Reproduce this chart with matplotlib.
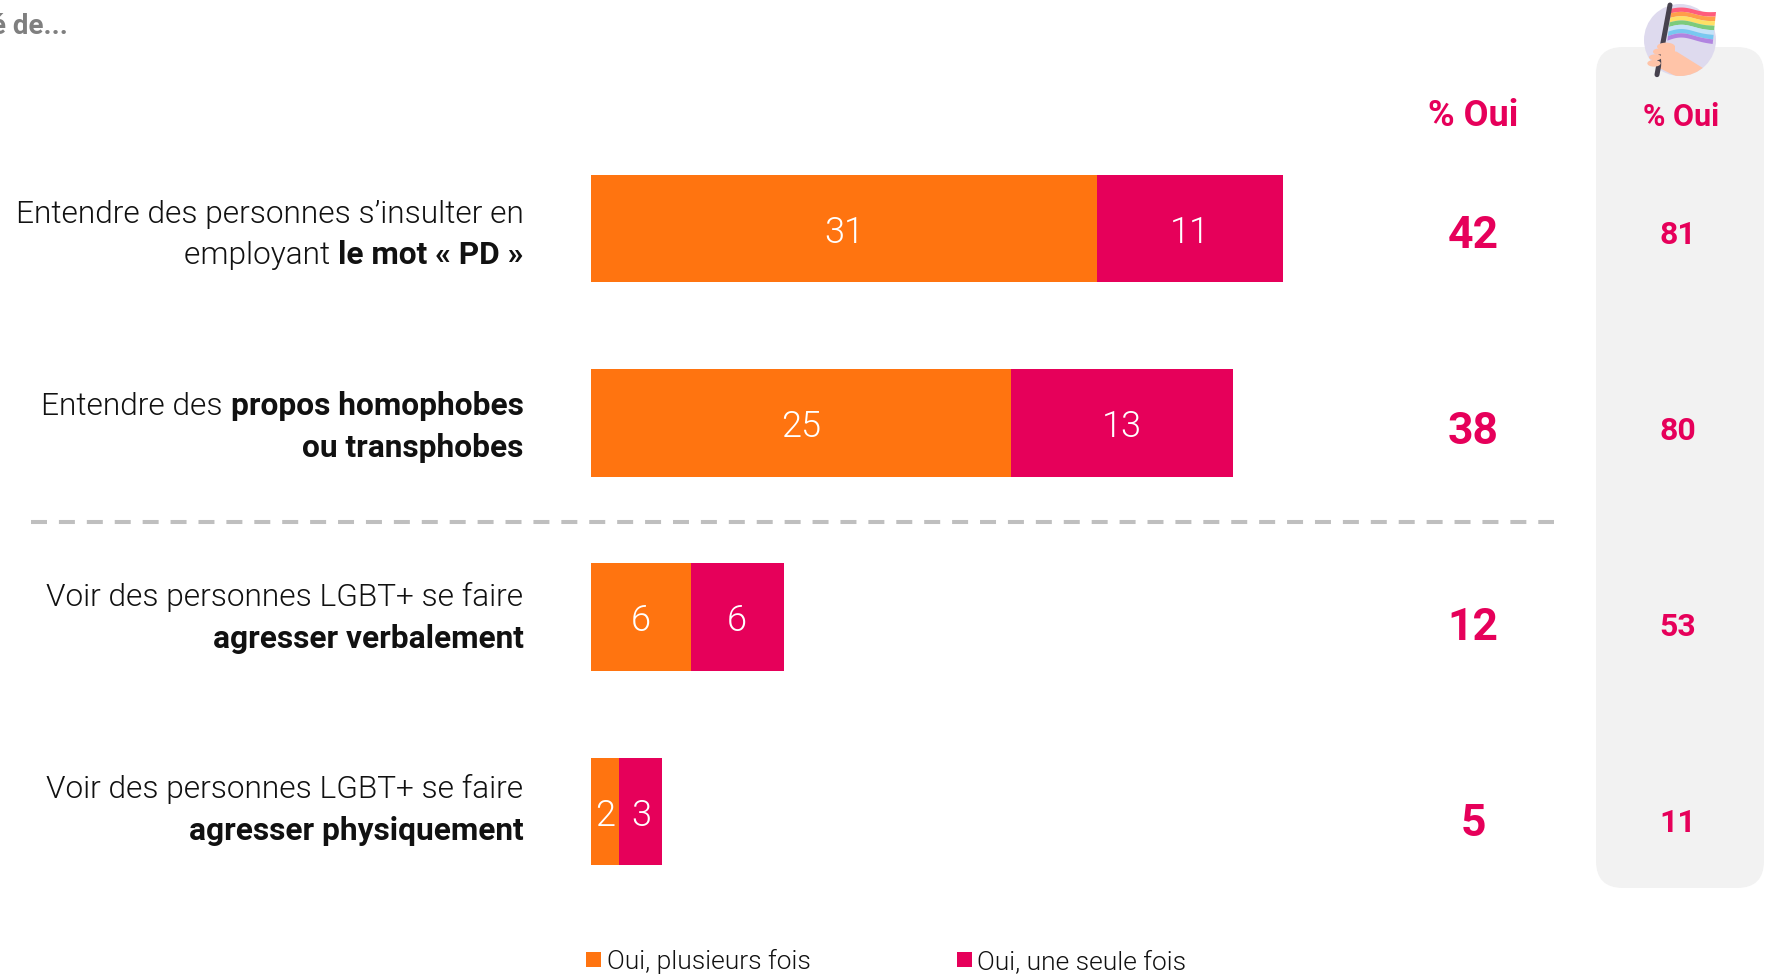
import numpy as np
import matplotlib
matplotlib.use("Agg")
import matplotlib.pyplot as plt
from matplotlib.patches import Rectangle, FancyBboxPatch, Circle, Polygon, Ellipse

# ---- data ----
several_times = [30.5, 25.3, 6.0, 1.7]
once_only = [11.2, 13.4, 5.6, 2.6]
several_labels = ["31", "25", "6", "2"]
once_labels = ["11", "13", "6", "3"]
total_all = ["42", "38", "12", "5"]
total_lgbt = ["81", "80", "53", "11"]
category_lines = [
    [[("Entendre des personnes s’insulter en", False)],
     [("employant ", False), ("le mot « PD »", True)]],
    [[("Entendre des ", False), ("propos homophobes", True)],
     [("ou transphobes", True)]],
    [[("Voir des personnes LGBT+ se faire", False)],
     [("agresser verbalement", True)]],
    [[("Voir des personnes LGBT+ se faire", False)],
     [("agresser physiquement", True)]],
]
legend_labels = ["Oui, plusieurs fois", "Oui, une seule fois"]
header = "% Oui"
clipped_title = "é de..."

ORANGE = "#FF7410"
PINK = "#E6005A"
W, H = 1772, 974
FONT = "Roboto"

fig = plt.figure(figsize=(W / 100, H / 100), dpi=100, facecolor="white")

# overlay in pixel coordinates for annotations
ov = fig.add_axes([0, 0, 1, 1], zorder=1)
ov.set_xlim(0, W)
ov.set_ylim(H, 0)
ov.axis("off")

# bars
PX_PER_UNIT = 16.6
top, bottom = 131.3, 908.6
left, span = 591, 1000
ax = fig.add_axes([left / W, (H - bottom) / H, span / W, (bottom - top) / H], zorder=2)
ax.patch.set_alpha(0)
y = np.arange(len(several_times))
b1 = ax.barh(y, several_times, height=0.553, color=ORANGE)
b2 = ax.barh(y, once_only, left=several_times, height=0.553, color=PINK)
ax.set_xlim(0, span / PX_PER_UNIT)
ax.set_ylim(3.5, -0.5)
ax.axis("off")
lab = dict(color="white", family=FONT, weight=300, fontsize=26)
anns = ax.bar_label(b1, labels=several_labels, label_type="center", **lab)
anns += ax.bar_label(b2, labels=once_labels, label_type="center", **lab)
for a in anns:
    a.xyann = (0, -3.0)

# right panel
px0, px1, py0, py1 = 1596, 1764, 47, 888
rad = 27
ov.add_patch(FancyBboxPatch((px0 + rad, py0 + rad), px1 - px0 - 2 * rad, py1 - py0 - 2 * rad,
                            boxstyle=f"round,pad={rad},rounding_size={rad}",
                            fc="#F2F2F2", ec="none", zorder=1))

# separator
ov.plot([31, 1554], [521.5, 521.5], color="#BFBFBF", lw=2.9, dashes=(3.97, 2.96),
        dash_capstyle="butt", zorder=2)

# category labels
renderer = fig.canvas.get_renderer()
RIGHT = 523.5
baselines = [(223, 264), (415, 457), (606, 648), (798, 840)]
LABEL_SIZE = 22.8
for lines, ys in zip(category_lines, baselines):
    for segs, yy in zip(lines, ys):
        x = RIGHT
        for txt, bold in reversed(segs):
            shown = txt.replace(" ", "\u00a0")
            t = ov.text(x, yy, shown, ha="right", va="baseline", fontsize=LABEL_SIZE,
                        family=FONT, weight=700 if bold else 300, color="#111111", zorder=3)
            x -= t.get_window_extent(renderer).width

# totals
for yy, a, b in zip([236.5, 431.5, 627.5, 823.5], total_all, total_lgbt):
    ov.text(1473, yy, a, ha="center", va="center", color=PINK, fontsize=32,
            family=FONT, weight=700, zorder=3)
    ov.text(1678, yy - 1, b, ha="center", va="center", color=PINK, fontsize=23,
            family=FONT, weight=700, zorder=3)
ov.text(1473, 115.5, header, ha="center", va="center", color=PINK, fontsize=26,
        family=FONT, weight=700, zorder=3)
ov.text(1681, 117.5, header, ha="center", va="center", color=PINK, fontsize=22,
        family=FONT, weight=700, zorder=3)

# clipped header
ov.text(68, 34, clipped_title, ha="right", va="baseline", color="#7F7F7F", fontsize=20,
        family=FONT, weight=700, zorder=3, clip_on=False)

# legend
for (sx, tx), c, s in zip([(586, 607), (957, 977)], [ORANGE, PINK], legend_labels):
    ov.add_patch(Rectangle((sx, 952), 15, 15, fc=c, ec="none", zorder=3))
    ov.text(tx, 969.5, s, ha="left", va="baseline", fontsize=19, family=FONT, weight=300,
            color="#111111", zorder=3)

# flag icon (decoration); coordinates are in a 3x local space
def ix(v):
    return 1560 + np.asarray(v, float) / 3
def iy(v):
    return np.asarray(v, float) / 3

disc = Circle((1680, 40), 36, fc="#DEDAEE", ec="none", zorder=4)
ov.add_patch(disc)
stripe_colors = ["#FF5C7C", "#FF9E4A", "#FFE066", "#7CCB7C", "#C4E2F8", "#78C8F0", "#B184E0"]
u = np.linspace(0, 1, 40)
xt = 334 + (468 - 334) * u
xb = 322 + (458 - 322) * u
n = len(stripe_colors)
for i, col in enumerate(stripe_colors):
    f0, f1 = i / n, (i + 1) / n
    def edge(f):
        xs = xt + (xb - xt) * f
        ys = 26 + 10 * u ** 2 - 4 * np.sin(u * 2 * np.pi) + (96 - 8 * np.sin(u * np.pi)) * f
        return xs, ys
    x0_, y0_ = edge(f0)
    x1_, y1_ = edge(f1)
    ov.add_patch(Polygon(np.c_[ix(np.r_[x0_, x1_[::-1]]), iy(np.r_[y0_, y1_[::-1]])],
                         fc=col, ec="none", zorder=5))
skin = "#FFC4A8"
arm = Polygon(np.c_[ix([320, 350, 430, 440, 360, 300]), iy([150, 155, 205, 235, 235, 205])],
              fc=skin, ec="none", zorder=6)
ov.add_patch(arm)
arm.set_clip_path(disc)
ov.plot(ix([330, 291]), iy([15, 224]), color="#47424E", lw=3.6, solid_capstyle="round", zorder=7)
for (cx, cy, w, h) in [(318, 140, 54, 24), (294, 155, 30, 18), (286, 172, 38, 18), (282, 190, 40, 20)]:
    ov.add_patch(Ellipse((1560 + cx / 3, cy / 3), w / 3, h / 3, fc=skin, ec="none", zorder=8))
ov.add_patch(Polygon(np.c_[ix([300, 345, 345, 305]), iy([135, 140, 195, 205])], fc=skin, ec="none", zorder=8))

fig.savefig("out.png", dpi=100)
